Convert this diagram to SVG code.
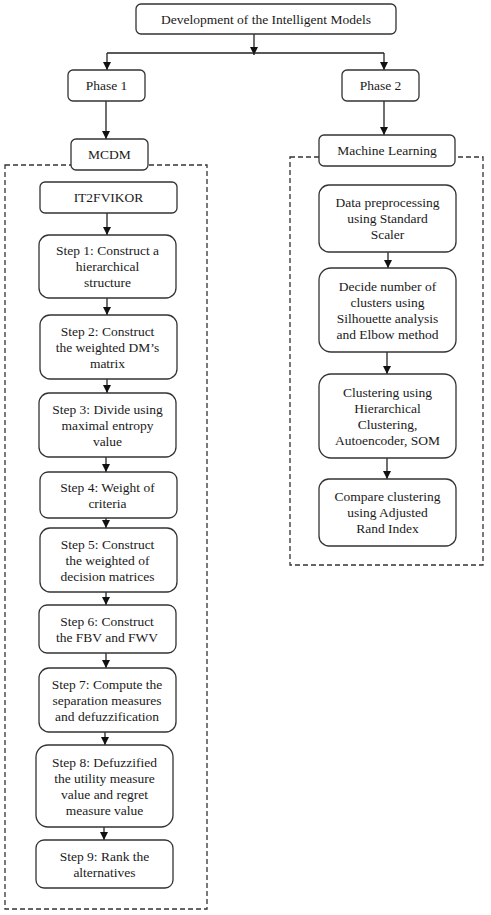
<svg xmlns="http://www.w3.org/2000/svg" width="491" height="915" viewBox="0 0 491 915">
<style>
.box{fill:#fff;stroke:#333;stroke-width:1.3}
.dash{fill:none;stroke:#333;stroke-width:1.3;stroke-dasharray:5,3}
.c{fill:none;stroke:#222;stroke-width:1.3}
.a{marker-end:url(#ah)}
text{font-family:'Liberation Serif','DejaVu Serif',serif;font-size:13.5px;fill:#1a1a1a;text-anchor:middle}
</style>
<defs>
<marker id="ah" markerWidth="8" markerHeight="8" refX="8" refY="4" orient="auto" markerUnits="userSpaceOnUse">
<path d="M0,0 L8,4 L0,8 Z" fill="#111"/>
</marker>
</defs>
<rect class="dash" x="5" y="165" width="202" height="744"/>
<rect class="dash" x="290" y="157" width="193" height="408"/>
<g id="connectors">
<path class="c a" d="M254,34 V55"/>
<path class="c" d="M107,53 H384"/>
<path class="c a" d="M107,53 V70"/>
<path class="c a" d="M384,53 V70"/>
<path class="c a" d="M106,101 V139"/>
<path class="c a" d="M384,101 V135"/>
<path class="c a" d="M107,213 V235"/>
<path class="c a" d="M107,298 V315"/>
<path class="c a" d="M107,379 V393"/>
<path class="c a" d="M106,457 V472"/>
<path class="c a" d="M106,507 V528"/>
<path class="c a" d="M106,592 V605"/>
<path class="c a" d="M106,653 V668"/>
<path class="c a" d="M105,725 V745"/>
<path class="c a" d="M104,820 V840"/>
<path class="c a" d="M388,252 V268"/>
<path class="c a" d="M387,352 V374"/>
<path class="c a" d="M387,458 V479"/>
</g>
<g font-family="Liberation Serif, serif">
<g id="root"><rect class="box" x="136" y="4" width="260" height="30" rx="5"/><text x="266" y="24">Development of the Intelligent Models</text></g>
<g id="phase1"><rect class="box" x="68" y="70" width="77" height="31" rx="5"/><text x="106.5" y="90">Phase 1</text></g>
<g id="phase2"><rect class="box" x="342" y="70" width="77" height="31" rx="5"/><text x="380.5" y="90">Phase 2</text></g>
<g id="mcdm"><rect class="box" x="71" y="139" width="77" height="31" rx="5"/><text x="109.5" y="158.5">MCDM</text></g>
<g id="ml"><rect class="box" x="319" y="135" width="136" height="31" rx="5"/><text x="387" y="154.5">Machine Learning</text></g>
<g id="it2fvikor"><rect class="box" x="40" y="182" width="137" height="31" rx="5"/><text x="108.5" y="202">IT2FVIKOR</text></g>
<g id="step1"><rect class="box" x="39" y="235" width="137" height="63" rx="10"/><text x="107.5" y="255">Step 1: Construct a</text><text x="107.5" y="271">hierarchical</text><text x="107.5" y="287">structure</text></g>
<g id="step2"><rect class="box" x="40" y="315" width="137" height="64" rx="10"/><text x="107.5" y="335.5">Step 2: Construct</text><text x="107.5" y="351.5">the weighted DM’s</text><text x="107.5" y="367.5">matrix</text></g>
<g id="step3"><rect class="box" x="39" y="393" width="137" height="64" rx="10"/><text x="107.5" y="413.5">Step 3: Divide using</text><text x="107.5" y="429.5">maximal entropy</text><text x="107.5" y="445.5">value</text></g>
<g id="step4"><rect class="box" x="40" y="472" width="137" height="46" rx="8"/><text x="107.5" y="491.5">Step 4: Weight of</text><text x="107.5" y="507.5">criteria</text></g>
<g id="step5"><rect class="box" x="40" y="528" width="137" height="64" rx="10"/><text x="107.5" y="548.5">Step 5: Construct</text><text x="107.5" y="564.5">the weighted of</text><text x="107.5" y="580.5">decision matrices</text></g>
<g id="step6"><rect class="box" x="39" y="605" width="137" height="48" rx="8"/><text x="107" y="625.5">Step 6: Construct</text><text x="107" y="641.5">the FBV and FWV</text></g>
<g id="step7"><rect class="box" x="39" y="668" width="137" height="64" rx="10"/><text x="107" y="688.5">Step 7: Compute the</text><text x="107" y="704.5">separation measures</text><text x="107" y="720.5">and defuzzification</text></g>
<g id="step8"><rect class="box" x="36" y="745" width="137" height="82" rx="12"/><text x="104.5" y="766.5">Step 8: Defuzzified</text><text x="104.5" y="782.5">the utility measure</text><text x="104.5" y="798.5">value and regret</text><text x="104.5" y="814.5">measure value</text></g>
<g id="step9"><rect class="box" x="36" y="840" width="137" height="48" rx="8"/><text x="104.5" y="860.5">Step 9: Rank the</text><text x="104.5" y="876.5">alternatives</text></g>
<g id="preprocess"><rect class="box" x="319" y="185" width="137" height="67" rx="10"/><text x="387.5" y="207">Data preprocessing</text><text x="387.5" y="223">using Standard</text><text x="387.5" y="239">Scaler</text></g>
<g id="decide"><rect class="box" x="319" y="268" width="137" height="84" rx="12"/><text x="387.5" y="290.5">Decide number of</text><text x="387.5" y="306.5">clusters using</text><text x="387.5" y="322.5">Silhouette analysis</text><text x="387.5" y="338.5">and Elbow method</text></g>
<g id="clustering"><rect class="box" x="319" y="374" width="137" height="84" rx="12"/><text x="387.5" y="396.5">Clustering using</text><text x="387.5" y="412.5">Hierarchical</text><text x="387.5" y="428.5">Clustering,</text><text x="387.5" y="444.5">Autoencoder, SOM</text></g>
<g id="compare"><rect class="box" x="319" y="479" width="137" height="67" rx="10"/><text x="387.5" y="501">Compare clustering</text><text x="387.5" y="517">using Adjusted</text><text x="387.5" y="533">Rand Index</text></g>
</g>
</svg>
